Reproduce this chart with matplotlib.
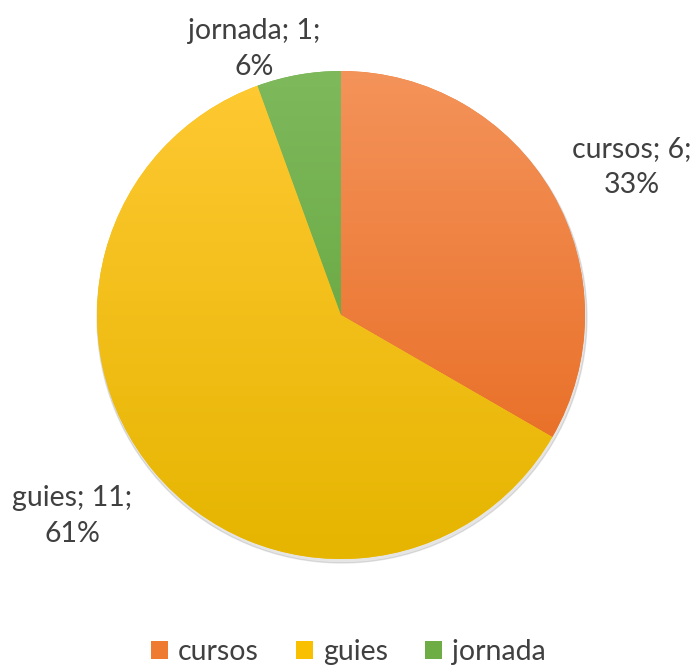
import matplotlib.pyplot as plt
import numpy as np
from matplotlib.colors import LinearSegmentedColormap
from matplotlib.patches import Patch

labels = ["cursos", "guies", "jornada"]
values = [6, 11, 1]
percents = ["33%", "61%", "6%"]
tops = ["#F4935A", "#FFC933", "#7EB95C"]
bottoms = ["#E6661A", "#E5B500", "#5D9E33"]
mids = ["#EE7B30", "#F9C000", "#6EAD45"]

plt.rcParams["font.family"] = ["Lato", "DejaVu Sans"]
text_col = "#404040"

fig = plt.figure(figsize=(6.97, 6.68), dpi=100)
ax = fig.add_axes([0, 0, 1, 1])

cx, cy, r = 341, 668 - 315, 244

# soft shadow
shadow = plt.Circle((cx + 1, cy - 3), r + 1, color="#000000", alpha=0.10, zorder=0)
ax.add_patch(shadow)

wedges, _ = ax.pie(values, center=(cx, cy), radius=r, startangle=90,
                   counterclock=False, colors=mids, frame=True,
                   wedgeprops=dict(linewidth=0))

grad = np.linspace(0, 1, 256).reshape(-1, 1)
for w, t, b in zip(wedges, tops, bottoms):
    cmap = LinearSegmentedColormap.from_list("g", [b, t])
    im = ax.imshow(grad, cmap=cmap, origin="lower", aspect="auto",
                   extent=(cx - r, cx + r, cy - r, cy + r), zorder=2)
    im.set_clip_path(w)
ax.set_xlim(0, 697)
ax.set_ylim(0, 668)
ax.set_aspect("equal")
ax.axis("off")

fs = 20.5
ls = 1.45
ax.text(632, 668 - 167, f"{labels[0]}; {values[0]};\n{percents[0]}", ha="center",
        va="center", fontsize=fs, color=text_col, linespacing=ls)
ax.text(72, 668 - 516, f"{labels[1]}; {values[1]};\n{percents[1]}", ha="center",
        va="center", fontsize=fs, color=text_col, linespacing=ls)
ax.text(254, 668 - 49, f"{labels[2]}; {values[2]};\n{percents[2]}", ha="center",
        va="center", fontsize=fs, color=text_col, linespacing=ls)

handles = [Patch(facecolor=m, edgecolor="none") for m in mids]
ax.legend(handles, labels, loc="center", bbox_to_anchor=(0.5, 1 - 652 / 668),
          ncol=3, frameon=False, fontsize=fs, handlelength=0.6, handleheight=0.6,
          handletextpad=0.35, columnspacing=1.3, labelcolor=text_col)

fig.savefig("out.png", dpi=100)
